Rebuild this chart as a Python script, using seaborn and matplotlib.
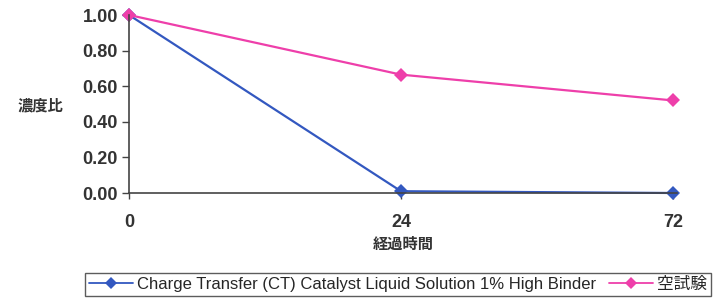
import pandas as pd
import matplotlib
matplotlib.use("Agg")
import matplotlib.pyplot as plt
import seaborn as sns

hours = ["0", "24", "72"]
ct_values = [1.00, 0.01, 0.00]
blank_values = [1.00, 0.665, 0.52]
series_names = ["Charge Transfer (CT) Catalyst Liquid Solution 1% High Binder", "空試験"]

df = pd.DataFrame({
    "time": hours * 2,
    "ratio": ct_values + blank_values,
    "series": [series_names[0]] * 3 + [series_names[1]] * 3,
})

sns.set_style("white")
plt.rcParams["font.family"] = ["Liberation Sans", "Noto Sans CJK JP"]

fig = plt.figure(figsize=(7.19, 2.99), dpi=100)
ax = fig.add_axes([129 / 719, 1 - 193 / 299, 548 / 719, 178 / 299])

sns.lineplot(
    data=df,
    x="time",
    y="ratio",
    hue="series",
    palette=["#3358C0", "#EE3FAA"],
    marker="D",
    markersize=7,
    markeredgewidth=0,
    linewidth=1.6,
    sort=False,
    ax=ax,
    clip_on=False,
)

ax.set_xlim(0, 548 / 272)
ax.set_ylim(0, 1.0)
ax.set_yticks([0, 0.2, 0.4, 0.6, 0.8, 1.0])
ax.set_yticklabels([f"{v:.2f}" for v in [0, 0.2, 0.4, 0.6, 0.8, 1.0]])

for side in ["top", "right"]:
    ax.spines[side].set_visible(False)
for side in ["left", "bottom"]:
    ax.spines[side].set_color("#444444")
    ax.spines[side].set_linewidth(1.2)

ax.tick_params(axis="y", direction="out", length=5, width=1, color="#444444",
               labelsize=13, pad=3, left=True)
ax.tick_params(axis="x", direction="out", length=4, width=1, color="#444444",
               labelsize=13, pad=11, bottom=True)
for lbl in ax.get_xticklabels() + ax.get_yticklabels():
    lbl.set_fontweight("bold")
    lbl.set_color("#333333")

ax.set_xlabel("経過時間", fontsize=11, fontweight="bold", color="#333333", labelpad=5)
ax.set_ylabel("濃度比", fontsize=11, fontweight="bold", color="#333333",
              rotation=0, va="center", ha="center")
ax.yaxis.set_label_coords((40 - 129) / 548, 0.49)

leg = ax.legend(
    loc="center",
    bbox_to_anchor=(398 / 719, 1 - 284.5 / 299),
    bbox_transform=fig.transFigure,
    ncol=2,
    frameon=True,
    fancybox=False,
    fontsize=12,
    handlelength=2.6,
    handletextpad=0.25,
    columnspacing=0.8,
    borderpad=0.25,
    borderaxespad=0,
)
leg.get_frame().set_edgecolor("#333333")
leg.get_frame().set_linewidth(1.0)
for h in leg.legend_handles:
    h.set_markersize(6)
    h.set_linewidth(1.3)

fig.savefig("out.png", dpi=100)
